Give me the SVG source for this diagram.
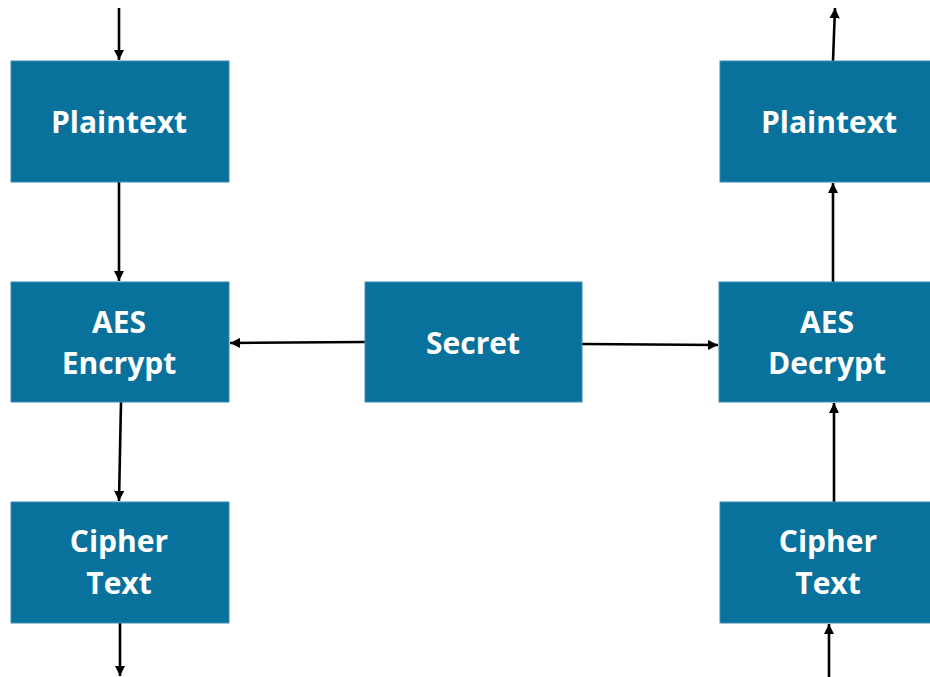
<svg xmlns="http://www.w3.org/2000/svg" width="930" height="677" viewBox="0 0 930 677">
<style>
.box{fill:#08719C;stroke:#3D8DB3;stroke-width:1}
.lbl{fill:#ffffff;font-family:"Open Sans","Liberation Sans",sans-serif;font-weight:bold;font-size:30px;text-anchor:middle}
.conn{stroke:#000;stroke-width:2.6;fill:none}
</style>
<defs>
<marker id="ah" viewBox="0 0 10 10" refX="10" refY="5" markerWidth="4" markerHeight="4" orient="auto" markerUnits="strokeWidth">
<path d="M0,0 L10,5 L0,10 z" fill="#000"/>
</marker>
</defs>
<rect width="930" height="677" fill="#ffffff"/>
<g id="connectors">
<line class="conn" x1="119" y1="8" x2="119" y2="60" marker-end="url(#ah)"/>
<line class="conn" x1="119" y1="182" x2="119" y2="281" marker-end="url(#ah)"/>
<line class="conn" x1="121" y1="402" x2="119" y2="501" marker-end="url(#ah)"/>
<line class="conn" x1="120" y1="623" x2="120" y2="676" marker-end="url(#ah)"/>
<line class="conn" x1="365" y1="342" x2="230" y2="343" marker-end="url(#ah)"/>
<line class="conn" x1="582" y1="344" x2="718" y2="345" marker-end="url(#ah)"/>
<line class="conn" x1="833" y1="61" x2="835" y2="8" marker-end="url(#ah)"/>
<line class="conn" x1="833" y1="282" x2="833" y2="183" marker-end="url(#ah)"/>
<line class="conn" x1="834" y1="502" x2="834" y2="403" marker-end="url(#ah)"/>
<line class="conn" x1="829" y1="677" x2="829" y2="624" marker-end="url(#ah)"/>
</g>
<g id="plaintext-left">
<rect class="box" x="11" y="61" width="218" height="121"/>
<text class="lbl" x="119" y="133">Plaintext</text>
</g>
<g id="aes-encrypt">
<rect class="box" x="11" y="282" width="218" height="120"/>
<text class="lbl" x="119" y="333">AES</text>
<text class="lbl" x="119" y="374">Encrypt</text>
</g>
<g id="cipher-left">
<rect class="box" x="11" y="502" width="218" height="121"/>
<text class="lbl" x="119" y="552">Cipher</text>
<text class="lbl" x="119" y="594">Text</text>
</g>
<g id="secret">
<rect class="box" x="365" y="282" width="217" height="120"/>
<text class="lbl" x="473" y="354">Secret</text>
</g>
<g id="plaintext-right">
<rect class="box" x="720" y="61" width="211" height="121"/>
<text class="lbl" x="829" y="133">Plaintext</text>
</g>
<g id="aes-decrypt">
<rect class="box" x="719" y="282" width="212" height="120"/>
<text class="lbl" x="827" y="333">AES</text>
<text class="lbl" x="827" y="374">Decrypt</text>
</g>
<g id="cipher-right">
<rect class="box" x="720" y="502" width="211" height="121"/>
<text class="lbl" x="828" y="552">Cipher</text>
<text class="lbl" x="828" y="594">Text</text>
</g>
</svg>
